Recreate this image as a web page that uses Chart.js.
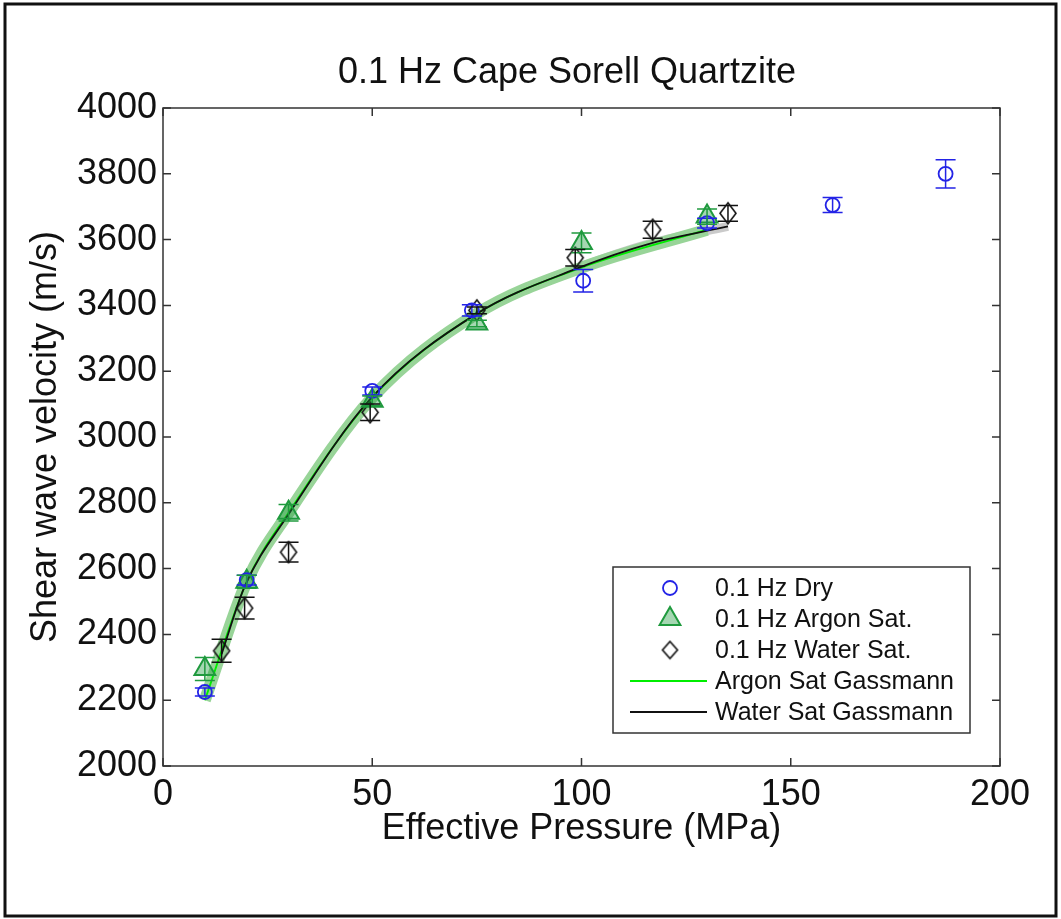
<!DOCTYPE html>
<html>
<head>
<meta charset="utf-8">
<title>0.1 Hz Cape Sorell Quartzite</title>
<script src="https://cdn.jsdelivr.net/npm/chart.js@4.4.1/dist/chart.umd.min.js"></script>
<style>
  html, body { margin: 0; padding: 0; background: #fff; }
  canvas { display: block; }
</style>
</head>
<body>
<canvas id="chart" width="1061" height="919"></canvas>
<script>
// Datos (presión efectiva en MPa, velocidad en m/s)
const dryP = [10, 20, 50, 73.8, 100.4, 130, 160, 187];
const dryV = [2225, 2565, 3140, 3385, 3475, 3650, 3705, 3800];
const dryErr = [12, 15, 12, 17, 34, 15, 23, 43];

const argonP = [10, 20, 30, 50, 75, 100, 130];
const argonV = [2295, 2560, 2770, 3110, 3345, 3590, 3670];
const argonErr = [35, 20, 25, 15, 10, 30, 23];

const waterP = [14, 19.5, 30, 49.5, 75, 98.5, 117, 135];
const waterV = [2350, 2480, 2650, 3075, 3385, 3545, 3630, 3680];
const waterErr = [35, 33, 30, 25, 10, 25, 26, 24];

const argonGassP = [10, 20, 30, 50, 75, 100, 130];
const argonGassV = [2200, 2560, 2770, 3120, 3375, 3515, 3630];

const waterGassP = [14, 19.5, 30, 49.5, 75, 98.5, 117, 135];
const waterGassV = [2340, 2545, 2765, 3115, 3375, 3510, 3590, 3640];

const xTicks = [0, 50, 100, 150, 200];
const yTicks = [2000, 2200, 2400, 2600, 2800, 3000, 3200, 3400, 3600, 3800, 4000];

const TITLE = '0.1 Hz Cape Sorell Quartzite';
const FONT = "'Liberation Sans', Arial, Helvetica, sans-serif";
const BLUE = '#2323e6';
const GREEN = '#1f9a3e';
const BLACK = '#111';

const pts = (xs, ys) => xs.map((x, i) => ({ x: x, y: ys[i] }));

// Rombo alargado (como el marcador 'd' de matplotlib)
function makeDiamond(w, h) {
    const c = document.createElement('canvas');
    c.width = w + 4; c.height = h + 4;
    const g = c.getContext('2d');
    const cx = c.width / 2, cy = c.height / 2;
    g.beginPath();
    g.moveTo(cx, cy - h / 2);
    g.lineTo(cx + w / 2, cy);
    g.lineTo(cx, cy + h / 2);
    g.lineTo(cx - w / 2, cy);
    g.closePath();
    g.lineWidth = 1.6;
    g.strokeStyle = BLACK;
    g.stroke();
    return c;
}
const diamond = makeDiamond(16, 21);
const diamondSmall = makeDiamond(15, 17);

// Barras de error con topes
const errorBars = {
    id: 'errorBars',
    afterDatasetsDraw(chart) {
        const { ctx, scales: { x, y } } = chart;
        chart.data.datasets.forEach(ds => {
            if (!ds.errors) return;
            ctx.save();
            ctx.strokeStyle = ds.errColor;
            ctx.lineWidth = 1.5;
            ds.data.forEach((p, j) => {
                const px = x.getPixelForValue(p.x);
                const top = y.getPixelForValue(p.y + ds.errors[j]);
                const bot = y.getPixelForValue(p.y - ds.errors[j]);
                ctx.beginPath();
                ctx.moveTo(px, top); ctx.lineTo(px, bot);
                ctx.moveTo(px - 10, top); ctx.lineTo(px + 10, top);
                ctx.moveTo(px - 10, bot); ctx.lineTo(px + 10, bot);
                ctx.stroke();
            });
            ctx.restore();
        });
    }
};

// Título, marco con marcas hacia dentro, leyenda y borde exterior
const frame = {
    id: 'frame',
    beforeDraw(chart) {
        const { ctx, width, height } = chart;
        ctx.save();
        ctx.fillStyle = '#fff';
        ctx.fillRect(0, 0, width, height);
        ctx.restore();
    },
    afterDraw(chart) {
        const { ctx, chartArea: a, scales: { x, y } } = chart;
        ctx.save();

        ctx.font = '36px ' + FONT;
        ctx.fillStyle = '#111';
        ctx.textAlign = 'center';
        ctx.textBaseline = 'middle';
        ctx.fillText(TITLE, 567, 73);

        ctx.strokeStyle = '#333';
        ctx.lineWidth = 1.5;
        ctx.strokeRect(a.left, a.top, a.right - a.left, a.bottom - a.top);
        ctx.beginPath();
        xTicks.forEach(v => {
            const px = x.getPixelForValue(v);
            ctx.moveTo(px, a.bottom); ctx.lineTo(px, a.bottom - 8);
            ctx.moveTo(px, a.top); ctx.lineTo(px, a.top + 8);
        });
        yTicks.forEach(v => {
            const py = y.getPixelForValue(v);
            ctx.moveTo(a.left, py); ctx.lineTo(a.left + 8, py);
            ctx.moveTo(a.right, py); ctx.lineTo(a.right - 8, py);
        });
        ctx.stroke();

        // leyenda
        const L = { x: 613, y: 567, w: 357, h: 166 };
        ctx.fillStyle = '#fff';
        ctx.fillRect(L.x, L.y, L.w, L.h);
        ctx.strokeStyle = '#333';
        ctx.lineWidth = 1.5;
        ctx.strokeRect(L.x, L.y, L.w, L.h);
        ctx.font = '25px ' + FONT;
        ctx.textBaseline = 'middle';
        ctx.textAlign = 'left';
        const rows = chart.data.datasets.filter(d => d.legendKind);
        rows.forEach((d, i) => {
            const cy = L.y + 21 + i * 31;
            const mx = 670;
            if (d.legendKind === 'line') {
                ctx.strokeStyle = d.borderColor;
                ctx.lineWidth = 2;
                ctx.beginPath();
                ctx.moveTo(630, cy); ctx.lineTo(707, cy);
                ctx.stroke();
            } else if (d.pointStyle === 'circle') {
                ctx.strokeStyle = d.borderColor;
                ctx.lineWidth = d.borderWidth;
                ctx.beginPath();
                ctx.arc(mx, cy, d.legendRadius, 0, Math.PI * 2);
                ctx.stroke();
            } else if (d.pointStyle === 'triangle') {
                const r = d.legendRadius;
                ctx.fillStyle = d.backgroundColor;
                ctx.strokeStyle = d.borderColor;
                ctx.lineWidth = d.borderWidth;
                ctx.beginPath();
                ctx.moveTo(mx, cy - r);
                ctx.lineTo(mx + r * 0.866, cy + r / 2);
                ctx.lineTo(mx - r * 0.866, cy + r / 2);
                ctx.closePath();
                ctx.fill();
                ctx.stroke();
            } else {
                ctx.drawImage(diamondSmall, mx - diamondSmall.width / 2, cy - diamondSmall.height / 2);
            }
            ctx.fillStyle = '#111';
            ctx.fillText(d.label, 715, cy + 1);
        });

        // borde exterior de la figura
        ctx.strokeStyle = '#111';
        ctx.lineWidth = 3;
        ctx.strokeRect(5, 4, 1051, 912);
        ctx.restore();
    }
};

const plain = v => String(v);

new Chart(document.getElementById('chart'), {
    type: 'scatter',
    data: {
        datasets: [
            {
                label: '0.1 Hz Dry',
                data: pts(dryP, dryV),
                errors: dryErr, errColor: BLUE,
                pointStyle: 'circle', pointRadius: 7, legendRadius: 7,
                borderColor: BLUE, backgroundColor: 'rgba(255,255,255,0)',
                borderWidth: 1.8, legendKind: 'marker', order: 1
            },
            {
                label: '0.1 Hz Argon Sat.',
                data: pts(argonP, argonV),
                errors: argonErr, errColor: GREEN,
                pointStyle: 'triangle', pointRadius: 12, legendRadius: 12,
                borderColor: GREEN, backgroundColor: 'rgba(31,154,62,0.4)',
                borderWidth: 2, legendKind: 'marker', order: 2
            },
            {
                label: '0.1 Hz Water Sat.',
                data: pts(waterP, waterV),
                errors: waterErr, errColor: BLACK,
                pointStyle: diamond, pointRadius: 10,
                borderColor: BLACK, backgroundColor: 'rgba(255,255,255,0)',
                borderWidth: 1.6, legendKind: 'marker', order: 3
            },
            {
                label: 'Argon Sat Gassmann',
                data: pts(argonGassP, argonGassV),
                showLine: true, pointRadius: 0,
                borderColor: '#00ee00', borderWidth: 1.8,
                cubicInterpolationMode: 'monotone',
                legendKind: 'line', order: 5
            },
            {
                label: 'Water Sat Gassmann',
                data: pts(waterGassP, waterGassV),
                showLine: true, pointRadius: 0,
                borderColor: '#111', borderWidth: 1.8,
                cubicInterpolationMode: 'monotone',
                legendKind: 'line', order: 4
            },
            {
                label: 'Argon band',
                data: pts(argonGassP, argonGassV),
                showLine: true, pointRadius: 0,
                borderColor: '#98d498', borderWidth: 12,
                borderCapStyle: 'butt',
                cubicInterpolationMode: 'monotone',
                order: 6
            },
            {
                label: 'Water band',
                data: pts(waterGassP, waterGassV),
                showLine: true, pointRadius: 0,
                borderColor: 'rgba(150,150,150,0.5)', borderWidth: 9,
                borderCapStyle: 'butt',
                cubicInterpolationMode: 'monotone',
                order: 7
            }
        ]
    },
    options: {
        responsive: false,
        animation: false,
        layout: { padding: { left: 0, right: 61, top: 108, bottom: 0 } },
        plugins: {
            legend: { display: false },
            tooltip: { enabled: false },
            title: { display: false }
        },
        scales: {
            x: {
                type: 'linear',
                min: 0, max: 200,
                afterBuildTicks(axis) { axis.ticks = xTicks.map(v => ({ value: v })); },
                afterFit(axis) { axis.height = 153; },
                grid: { display: false, drawTicks: false },
                border: { display: false },
                ticks: { color: '#111', padding: 7, font: { family: FONT, size: 36 }, callback: plain },
                title: {
                    display: true,
                    text: 'Effective Pressure (MPa)',
                    color: '#111',
                    font: { family: FONT, size: 36 },
                    padding: { top: 0, bottom: 68 }
                }
            },
            y: {
                type: 'linear',
                min: 2000, max: 4000,
                afterBuildTicks(axis) { axis.ticks = yTicks.map(v => ({ value: v })); },
                afterFit(axis) { axis.width = 163; },
                grid: { display: false, drawTicks: false },
                border: { display: false },
                ticks: { color: '#111', padding: 6, font: { family: FONT, size: 36 }, callback: plain },
                title: {
                    display: true,
                    text: 'Shear wave velocity (m/s)',
                    color: '#111',
                    font: { family: FONT, size: 36 },
                    padding: { top: 24, bottom: 0 }
                }
            }
        }
    },
    plugins: [frame, errorBars]
});
</script>
</body>
</html>
